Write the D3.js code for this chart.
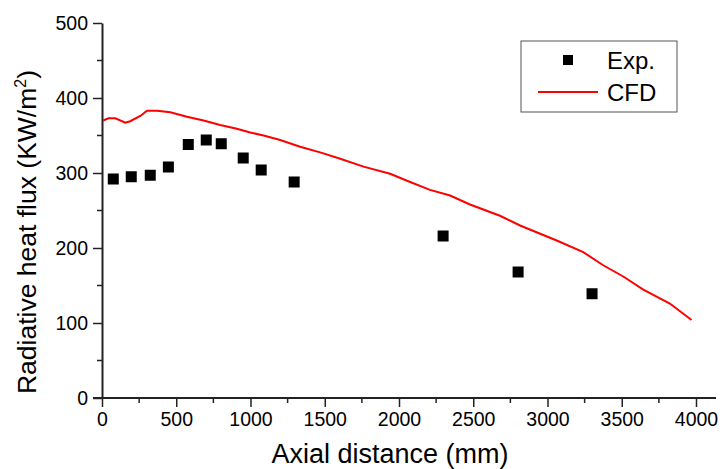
<!DOCTYPE html>
<html>
<head>
<meta charset="utf-8">
<script src="https://cdn.jsdelivr.net/npm/d3@7"></script>
<style>
  body { margin: 0; background: #fff; }
  text { font-family: Arial, "Liberation Sans", sans-serif; fill: #000; }
  .axis path, .axis line { stroke: #222; }
</style>
</head>
<body>
<div id="wrapper"></div>
<script>
// Experimental points
const expX = [76, 197, 325, 447, 581, 702, 803, 951, 1072, 1294, 2297, 2802, 3300]
const expY = [292, 295, 297, 308, 338, 344, 339, 320, 304, 288, 216, 168, 139]

// CFD curve
const cfdX = [7, 44, 90, 157, 190, 258, 303, 370, 460, 572, 684, 796, 908, 998, 1088, 1200, 1334, 1469, 1604, 1761, 1940, 2075, 2209, 2344, 2478, 2680, 2815, 3062, 3241, 3375, 3510, 3645, 3824, 3970]
const cfdY = [370, 373, 373, 367, 369, 376, 383, 383, 381, 375, 370, 364, 359, 354, 350, 344, 335, 327.5, 319, 308.5, 299, 288, 277.5, 270, 258, 243, 230, 210, 194.5, 177, 162, 144.5, 126, 104]

const xTicks = [0, 500, 1000, 1500, 2000, 2500, 3000, 3500, 4000]
const yTicks = [0, 100, 200, 300, 400, 500]

const dimensions = {
  width: 723,
  height: 469,
  margin: { top: 23, right: 27, bottom: 71, left: 102 },
}
dimensions.boundedWidth = dimensions.width - dimensions.margin.left - dimensions.margin.right
dimensions.boundedHeight = dimensions.height - dimensions.margin.top - dimensions.margin.bottom

const svg = d3.select("#wrapper").append("svg")
  .attr("width", dimensions.width)
  .attr("height", dimensions.height)

const bounds = svg.append("g")
  .attr("transform", `translate(${dimensions.margin.left},${dimensions.margin.top})`)

const xScale = d3.scaleLinear().domain([0, 4000]).range([0, 594])
const yScale = d3.scaleLinear().domain([0, 500]).range([dimensions.boundedHeight, 0])

// minor ticks
const xMinor = d3.range(250, 4000, 500)
const yMinor = d3.range(50, 500, 100)

bounds.selectAll(".x-minor")
  .data(xMinor)
  .enter().append("line")
  .attr("x1", d => xScale(d)).attr("x2", d => xScale(d))
  .attr("y1", dimensions.boundedHeight).attr("y2", dimensions.boundedHeight + 5)
  .attr("stroke", "#222").attr("stroke-width", 1.5)

bounds.selectAll(".y-minor")
  .data(yMinor)
  .enter().append("line")
  .attr("x1", -5).attr("x2", 0)
  .attr("y1", d => yScale(d)).attr("y2", d => yScale(d))
  .attr("stroke", "#222").attr("stroke-width", 1.5)

const xAxis = bounds.append("g")
  .attr("class", "axis")
  .attr("transform", `translate(0,${dimensions.boundedHeight})`)
  .call(d3.axisBottom(xScale).tickValues(xTicks).tickFormat(d3.format("d")).tickSize(9).tickSizeOuter(0).tickPadding(5))
xAxis.select(".domain").attr("stroke-width", 2).attr("d", `M-9,0H${xScale(4000) + 20}`)
xAxis.selectAll(".tick line").attr("stroke-width", 1.5)
xAxis.selectAll("text").style("font-size", "19.5px").attr("fill", "#000")

const yAxis = bounds.append("g")
  .attr("class", "axis")
  .call(d3.axisLeft(yScale).tickValues(yTicks).tickFormat(d3.format("d")).tickSize(9).tickSizeOuter(0).tickPadding(5))
yAxis.select(".domain").attr("stroke-width", 2)
yAxis.selectAll(".tick line").attr("stroke-width", 1.5)
yAxis.selectAll("text").style("font-size", "19.5px").attr("fill", "#000")

// CFD line
const cfdData = cfdX.map((x, i) => ({ x, y: cfdY[i] }))
const lineGenerator = d3.line()
  .x(d => xScale(d.x))
  .y(d => yScale(d.y))

bounds.append("path")
  .attr("d", lineGenerator(cfdData))
  .attr("fill", "none")
  .attr("stroke", "#ff0000")
  .attr("stroke-width", 2)

// Exp squares
const expData = expX.map((x, i) => ({ x, y: expY[i] }))
const size = 11
bounds.selectAll(".dot")
  .data(expData)
  .enter().append("rect")
  .attr("x", d => xScale(d.x) - size / 2)
  .attr("y", d => yScale(d.y) - size / 2)
  .attr("width", size)
  .attr("height", size)
  .attr("fill", "#000")

// axis labels
svg.append("text")
  .attr("x", 390)
  .attr("y", 463)
  .attr("text-anchor", "middle")
  .style("font-size", "27px")
  .text("Axial distance (mm)")

const yLabel = svg.append("text")
  .attr("transform", `translate(36, 232) rotate(-90)`)
  .attr("text-anchor", "middle")
  .style("font-size", "26.5px")
yLabel.append("tspan").text("Radiative heat flux (KW/m")
yLabel.append("tspan").attr("dy", -10).style("font-size", "16px").text("2")
yLabel.append("tspan").attr("dy", 10).text(")")

// legend
const legend = svg.append("g")
legend.append("rect")
  .attr("x", 521).attr("y", 41)
  .attr("width", 156).attr("height", 71)
  .attr("fill", "#fff")
  .attr("stroke", "#555")
  .attr("stroke-width", 1)
legend.append("rect")
  .attr("x", 563).attr("y", 55)
  .attr("width", 10).attr("height", 10)
  .attr("fill", "#000")
legend.append("line")
  .attr("x1", 538).attr("x2", 598)
  .attr("y1", 92).attr("y2", 92)
  .attr("stroke", "#ff0000").attr("stroke-width", 2)
legend.append("text")
  .attr("x", 607).attr("y", 69)
  .style("font-size", "24px")
  .text("Exp.")
legend.append("text")
  .attr("x", 607).attr("y", 101)
  .style("font-size", "24px")
  .text("CFD")
</script>
</body>
</html>
